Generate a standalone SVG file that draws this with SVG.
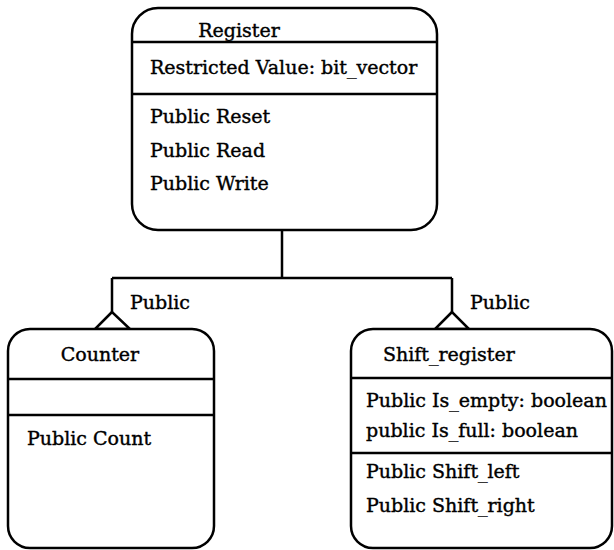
<svg xmlns="http://www.w3.org/2000/svg" width="614" height="550" viewBox="0 0 614 550">
  <defs>
    <style>
      .box { fill: #ffffff; stroke: #000000; stroke-width: 2.5; }
      .sep { stroke: #000000; stroke-width: 2.5; fill: none; }
      .link { stroke: #000000; stroke-width: 2.5; fill: none; }
      .tri { stroke: #000000; stroke-width: 2.5; fill: #ffffff; stroke-linejoin: miter; }
      .title { text-anchor: middle; }
    </style>
  </defs>
  <rect width="614" height="550" fill="#ffffff"/>

  <g font-family="DejaVu Serif, Liberation Serif, serif" font-size="19" fill="#000000" stroke="#000000" stroke-width="0.4">
    <!-- inheritance connectors -->
    <g id="connectors">
      <path class="link" d="M282 230 V278 M112 278 H452 M112 278 V312 M452 278 V312"/>
      <path class="tri" d="M112 312 L95 329 L130 329 Z"/>
      <path class="tri" d="M452 312 L435 329 L469 329 Z"/>
      <text x="130" y="309">Public</text>
      <text x="470" y="309">Public</text>
    </g>

    <!-- Register class -->
    <g id="register">
      <rect class="box" x="132" y="8" width="305" height="222" rx="26" ry="26"/>
      <line class="sep" x1="132" y1="42" x2="437" y2="42"/>
      <line class="sep" x1="132" y1="94" x2="437" y2="94"/>
      <text class="title" x="239" y="37">Register</text>
      <text x="150" y="74">Restricted Value: bit_vector</text>
      <text x="150" y="123">Public Reset</text>
      <text x="150" y="157">Public Read</text>
      <text x="150" y="190">Public Write</text>
    </g>

    <!-- Counter class -->
    <g id="counter">
      <rect class="box" x="8" y="329" width="206" height="219" rx="22" ry="22"/>
      <line class="sep" x1="8" y1="379" x2="214" y2="379"/>
      <line class="sep" x1="8" y1="415" x2="214" y2="415"/>
      <text class="title" x="100" y="361">Counter</text>
      <text x="27" y="445">Public Count</text>
    </g>

    <!-- Shift_register class -->
    <g id="shift_register">
      <rect class="box" x="351" y="329" width="261" height="219" rx="22" ry="22"/>
      <line class="sep" x1="351" y1="378" x2="612" y2="378"/>
      <line class="sep" x1="351" y1="453" x2="612" y2="453"/>
      <text x="383" y="361">Shift_register</text>
      <text x="366" y="407">Public Is_empty: boolean</text>
      <text x="366" y="437">public Is_full: boolean</text>
      <text x="366" y="478">Public Shift_left</text>
      <text x="366" y="512">Public Shift_right</text>
    </g>
  </g>
</svg>
